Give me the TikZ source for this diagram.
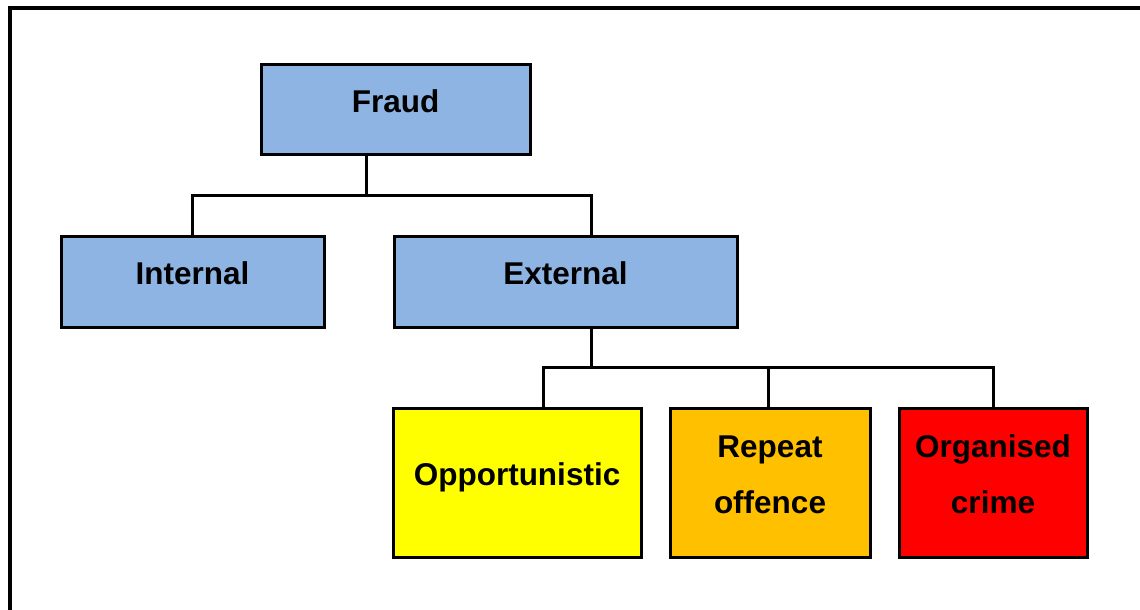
\documentclass[tikz,border=0pt]{standalone}
\usepackage{fontspec}
\setmainfont{Liberation Sans}
\usetikzlibrary{calc}
\definecolor{boxblue}{RGB}{142,180,227}
\definecolor{boxyellow}{RGB}{255,255,0}
\definecolor{boxorange}{RGB}{255,192,0}
\definecolor{boxred}{RGB}{255,0,0}
\tikzset{
  box/.style={draw=black, line width=3pt, rectangle, inner sep=0pt},
  lbl/.style={font=\fontsize{31.5}{56}\selectfont\bfseries, align=center, text depth=0pt, inner sep=0pt, yshift=8pt},
  conn/.style={draw=black, line width=3pt},
  frame/.style={draw=black, line width=3.5pt}
}
\begin{document}
\begin{tikzpicture}[x=1pt,y=-1pt]
\useasboundingbox (0,0) rectangle (1140,610);
% outer frame (top and left)
\coordinate (ftr) at (1141,8);
\coordinate (ftl) at (10,8);
\coordinate (fbl) at (10,611);
\draw[frame] (ftr) -- (ftl) -- (fbl);

% boxes
\node[box, fill=boxblue, minimum width=269pt, minimum height=89pt] (fraud) at (395.5,109.5) {};
\node[box, fill=boxblue, minimum width=263pt, minimum height=91pt] (internal) at (192.5,281.5) {};
\node[box, fill=boxblue, minimum width=343pt, minimum height=91pt] (external) at (565.5,281.5) {};
\node[box, fill=boxyellow, minimum width=248pt, minimum height=149pt] (opp) at (517,482.5) {};
\node[box, fill=boxorange, minimum width=200pt, minimum height=149pt] (rep) at (770,482.5) {};
\node[box, fill=boxred, minimum width=188pt, minimum height=149pt] (org) at (993,482.5) {};

% labels
\node[lbl] (tfraud) at (fraud) {Fraud};
\node[lbl] (tinternal) at (internal) {Internal};
\node[lbl] (texternal) at (external) {External};
\node[lbl] (topp) at (opp) {Opportunistic};
\node[lbl] (trep) at (rep) {Repeat\\offence};
\node[lbl] (torg) at (org) {Organised\\crime};

% connectors level 1
\coordinate (j1) at (366,195);
\coordinate (jx) at (591,195);
\draw[conn] (fraud.south -| j1) -- (j1);
\draw[conn] (internal.north) |- (jx) -- (jx |- external.north);

% connectors level 2
\coordinate (j2) at (591,367);
\coordinate (jo) at (543,367);
\coordinate (jr) at (768,367);
\draw[conn] (external.south -| j2) -- (j2);
\draw[conn] (jo |- opp.north) -- (jo) -| (org.north);
\draw[conn] (jr) -- (jr |- rep.north);
\end{tikzpicture}
\end{document}
